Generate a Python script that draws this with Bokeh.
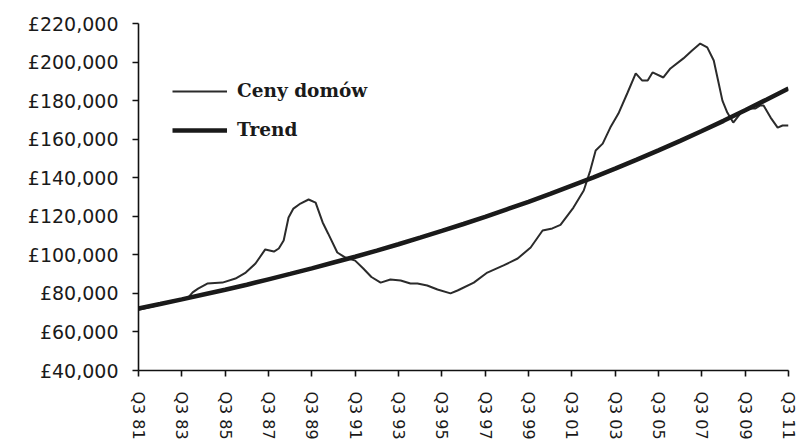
from bokeh.plotting import figure
from bokeh.models import FixedTicker, Legend, LegendItem, Range1d
from bokeh.embed import file_html
from bokeh.resources import INLINE

# House price series: quarter offset from Q3 1981, value in GBP
price_q = [0, 3, 6, 8, 9.2, 10, 11, 12.7, 15.5, 17.9, 19.8, 21.6, 23.4, 25, 25.9, 26.8,
           27.7, 28.6, 29.9, 31.4, 32.7, 34, 35, 36.7, 38.2, 40, 41.5, 43, 44.7, 46.5,
           48.4, 50.2, 51.5, 53.3, 55.2, 57.6, 58.9, 61.9, 64.4, 67.4, 70, 72.4, 74.6,
           76.4, 77.9, 80.3, 82.2, 83.4, 84.4, 85.7, 87.1, 88.6, 90.3, 91.8, 93, 94,
           94.9, 96.9, 98.2, 100.6, 102.2, 103.7, 105, 106.2, 107, 107.8, 108.7, 109.8,
           111.1, 112.4, 113.9, 114.8, 115.4, 116.7, 118, 118.9, 120]
price_v = [71500, 73500, 75800, 77000, 77900, 80500, 82500, 85100, 85600, 87700, 90800,
           95500, 102800, 101700, 103300, 107400, 119400, 124000, 126600, 128700, 127100,
           116800, 111100, 101200, 98600, 97000, 92900, 88500, 85600, 87200, 86700, 85100,
           85100, 84100, 82000, 80000, 81500, 85600, 90800, 94500, 98100, 103800, 112600,
           113700, 115500, 124500, 133400, 143700, 154100, 157700, 166000, 173300, 184200,
           194100, 190400, 190400, 194600, 192000, 196700, 201900, 206000, 209600, 207600,
           200800, 190400, 180000, 173800, 168600, 173300, 175900, 175900, 177500, 177500,
           171200, 166000, 167100, 167100]

# Trend series: yearly (Q3) values
trend_q = [0, 4, 8, 12, 16, 20, 24, 28, 32, 36, 40, 44, 48, 52, 56, 60, 64, 68, 72, 76,
           80, 84, 88, 92, 96, 100, 104, 108, 112, 116, 120]
trend_v = [72200, 74500, 76900, 79400, 81900, 84500, 87300, 90100, 93000, 96000, 99000,
           102200, 105500, 108900, 112400, 116000, 119700, 123600, 127500, 131600, 135900,
           140200, 144700, 149400, 154200, 159100, 164200, 169500, 175000, 180600, 186300]

x_ticks = [0, 8, 16, 24, 32, 40, 48, 56, 64, 72, 80, 88, 96, 104, 112, 120]
x_labels = ["Q3 81", "Q3 83", "Q3 85", "Q3 87", "Q3 89", "Q3 91", "Q3 93", "Q3 95",
            "Q3 97", "Q3 99", "Q3 01", "Q3 03", "Q3 05", "Q3 07", "Q3 09", "Q3 11"]
y_ticks = [40000, 60000, 80000, 100000, 120000, 140000, 160000, 180000, 200000, 220000]
y_labels = ["£40,000", "£60,000", "£80,000", "£100,000", "£120,000", "£140,000",
            "£160,000", "£180,000", "£200,000", "£220,000"]
series_names = ["Ceny domów", "Trend"]

p = figure(width=799, height=445, output_backend="svg", toolbar_location=None,
           x_range=Range1d(0, 120), y_range=Range1d(40000, 220000),
           min_border_left=138, min_border_right=11, min_border_top=23,
           min_border_bottom=75)
p.outline_line_color = None
p.xgrid.grid_line_color = None
p.ygrid.grid_line_color = None
p.background_fill_color = "white"
p.border_fill_color = "white"

price = p.line(price_q, price_v, line_color="#2b2b2b", line_width=2.0)
trend = p.line(trend_q, trend_v, line_color="#1a1a1a", line_width=4.5)

for ax in (p.xaxis[0], p.yaxis[0]):
    ax.axis_line_color = "#111111"
    ax.axis_line_width = 1.6
    ax.major_tick_line_color = "#111111"
    ax.major_tick_line_width = 1.6
    ax.major_tick_in = 0
    ax.major_tick_out = 6
    ax.minor_tick_line_color = None
    ax.major_label_text_color = "#1a1a1a"
    ax.major_label_text_font = "DejaVu Sans"

p.xaxis.ticker = FixedTicker(ticks=x_ticks)
p.xaxis.major_label_overrides = {t: l for t, l in zip(x_ticks, x_labels)}
p.xaxis.major_label_orientation = "vertical"
p.xaxis.major_label_text_font_size = "16px"
p.xaxis.major_label_standoff = 15

p.yaxis.ticker = FixedTicker(ticks=y_ticks)
p.yaxis.major_label_overrides = {t: l for t, l in zip(y_ticks, y_labels)}
p.yaxis.major_label_text_font_size = "19px"
p.yaxis.major_label_standoff = 14

legend = Legend(items=[LegendItem(label=series_names[0], renderers=[price]),
                       LegendItem(label=series_names[1], renderers=[trend])],
                location=(34, 230), padding=0, margin=0, spacing=18,
                glyph_width=55, glyph_height=20, label_height=20, label_standoff=10,
                border_line_alpha=0, background_fill_alpha=0,
                label_text_font="DejaVu Serif", label_text_font_style="bold",
                label_text_font_size="18.5px", label_text_color="#1a1a1a")
p.add_layout(legend, "center")

open("out.html", "w").write(file_html(p, INLINE))
